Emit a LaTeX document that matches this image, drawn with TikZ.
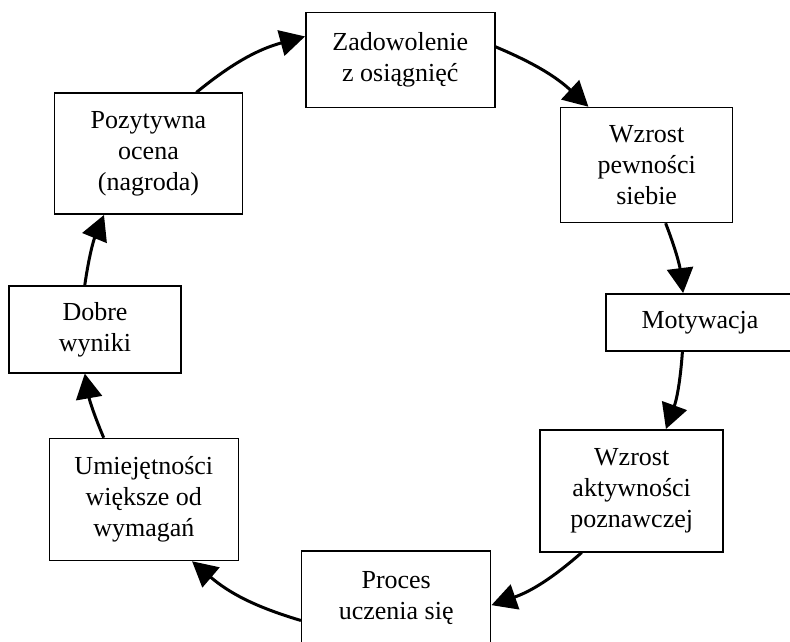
\documentclass[tikz,border=0pt]{standalone}
\usepackage{fontspec}
\setmainfont{Liberation Serif}
\usepackage{tikz}
\usetikzlibrary{arrows.meta}

\begin{document}
\begin{tikzpicture}[x=1pt, y=1pt, thick, main/.style={rectangle, draw, line width=1.5pt, inner sep=0pt, align=center, font=\fontsize{26}{31}\selectfont}, ar/.style={-{Triangle[length=25pt,width=26pt]}, line width=3pt}]
          \useasboundingbox (0,0) rectangle (790,641);
          \clip (0,0) rectangle (790,641);
          \node[main, minimum width=189pt, minimum height=95pt] (zad) at (400.3,580.8) {Zadowolenie\\z osiągnięć};
          \node[main, minimum width=172pt, minimum height=115pt] (pew) at (646.7,476) {Wzrost\\pewności\\siebie};
          \node[main, minimum width=188pt, minimum height=57pt] (mot) at (700,318.7) {Motywacja};
          \node[main, minimum width=183pt, minimum height=122pt] (akt) at (631.7,150.2) {Wzrost\\aktywności\\poznawczej};
          \node[main, minimum width=189pt, minimum height=95pt] (pro) at (396.2,42.5) {Proces\\uczenia się};
          \node[main, minimum width=189pt, minimum height=122pt] (umi) at (143.8,141.5) {Umiejętności\\większe od\\wymagań};
          \node[main, minimum width=172pt, minimum height=87pt] (dob) at (95,311.7) {Dobre\\wyniki};
          \node[main, minimum width=188pt, minimum height=121pt] (poz) at (148.5,487.3) {Pozytywna\\ocena\\(nagroda)};
          
          \draw[ar] (poz.52) to[bend left=12] (zad.166);
          \draw[ar] (zad.8) to[bend left=10] (pew.135);
          \draw[ar] (pew.288.5) to[bend left=7] (mot.120);
          \draw[ar] (mot.239.5) to[bend left=8] (akt.61);
          \draw[ar] (akt.231.5) to[bend left=11] (pro.356);
          \draw[ar] (pro.193) to[bend left=12] (umi.308);
          \draw[ar] (umi.123.5) to[bend left=6.5] (dob.257);
          \draw[ar] (dob.103) to[bend left=7] (poz.234.2);
        \end{tikzpicture}
\end{document}
